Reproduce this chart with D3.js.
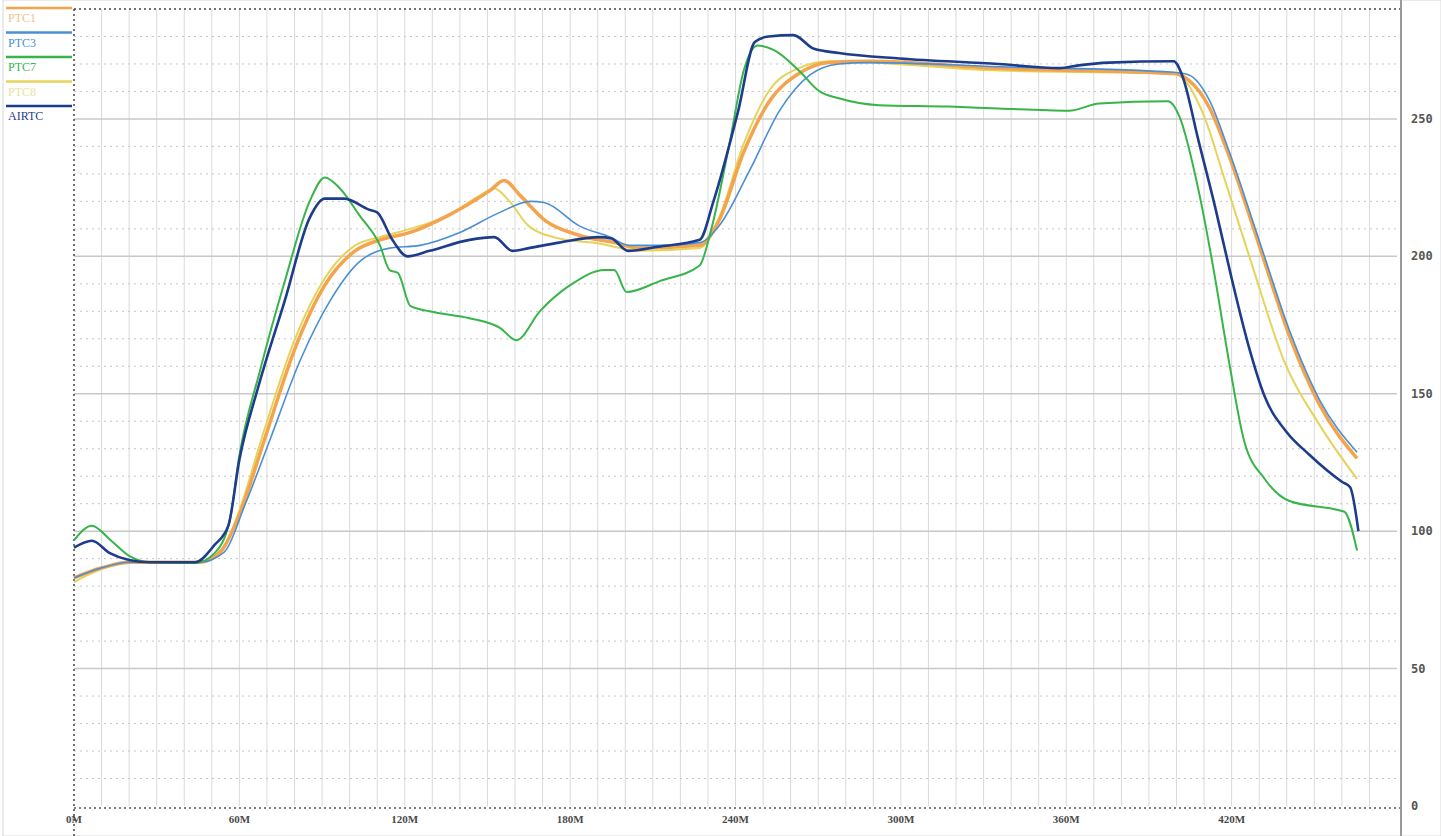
<!DOCTYPE html>
<meta charset="utf-8">
<style>
body { margin: 0; background: #fff; }
text { font-family: "DejaVu Sans Mono", monospace; }
</style>
<body>
<script src="https://cdn.jsdelivr.net/npm/d3@7"></script>
<script>
var width = 1441,
	height = 836;

// minutes vs temperature
var ptc1 = [[0,83],[9.5,86.5],[20,88.7],[45.5,88.7],[53.5,93],[60,106],[69,133],[80,166],[91,189.5],[102,202],[111,206],[122,208.7],[136,215],[151,224],[156,227.6],[162,222],[171,213],[183.5,207.6],[196,205],[205,203],[227,204],[234,213],[243,238],[252,256],[263,266.5],[274,270.5],[288.5,271],[335.5,268.4],[399,266.5],[404.5,264],[412,254],[419,236.7],[430,204],[441,171],[452,145.8],[465.5,126.5]];
var ptc3 = [[0,83],[9.5,86.5],[20,88.7],[45.5,88.7],[54.5,92.4],[62,109.5],[71,133],[82,162],[93,184],[103.5,198],[114.5,203],[125.5,204],[140,208.7],[154.5,216],[165.5,220],[170.5,219.6],[183.5,211],[194.5,207],[201.5,204],[212.5,204],[227,205],[234,211],[245,231],[256,253],[267,266],[277.5,270],[288.5,270.5],[335.5,269],[399,267],[404.5,266],[412,256.7],[419,238.5],[430,205.8],[441,173],[452,147.6],[465.5,128.7]];
var ptc7 = [[0,96.7],[6.5,102],[13,97],[20,91],[27.5,88.7],[44,88.4],[51,92],[56.5,104],[60,127.6],[67.5,158.5],[76.5,191],[85.5,220],[91,228.7],[96.5,224.7],[103.5,215],[111,204],[114.5,195],[117.5,194],[122,182],[129,180],[143.5,177.5],[154.5,174],[160.5,169.5],[169,180],[180,189.5],[192.5,195],[196,195],[200.5,187],[212.5,191],[227,196.7],[231,209],[238,242],[243,267.6],[248,276.7],[254,275],[263,267.6],[270.5,260],[277.5,257.5],[292,255],[317.5,254.5],[335.5,253.8],[361,253],[372,255.6],[397,256.4],[401,251],[408,224],[413.5,195],[419,162],[424.5,133],[432,119],[441,111],[459,107.6],[461,107],[465.5,93]];
var ptc8 = [[0,81.5],[9.5,86],[20,88.4],[45.5,88.4],[53.5,92.4],[60,107.6],[69,136.7],[80,169.5],[91,192],[102,204],[111,207],[122,210],[136,215],[147,222],[152.5,224.7],[158,220],[165,211],[176,206.5],[190.5,204.7],[205,202],[227,203],[234,214],[243,241],[252,260],[263,268.5],[274,271],[288.5,270.5],[335.5,267.6],[399,266.5],[402.5,264.5],[410,251],[417,229.5],[428,195],[439,162],[452,138.5],[465.5,119]];
var airtc = [[0,94],[6.5,96.5],[13,92],[20,89.5],[27.5,88.7],[44,88.7],[51,95],[56,102],[60,126],[67,153],[76.5,184],[85.5,214],[91,221],[98,221],[107,217],[110,216],[115.5,206],[121,200],[129,202],[143.5,206],[152.5,207],[159,202],[165,203],[176,205],[190.5,207],[195,206.5],[201,202],[212,203.5],[227,206],[232,220],[241,253],[247,278],[252,280],[261,280.5],[268.5,275.5],[277.5,274],[299.5,272],[335.5,270],[357.5,268.5],[364.5,269.5],[375.5,270.5],[399,271],[402,266],[408,242],[414,218],[420,192],[426,168],[432,149],[440,136],[448,128],[460,118],[463,116],[466,100]];

var xTicks = [0, 60, 120, 180, 240, 300, 360, 420];
var xTickLabels = ["0M", "60M", "120M", "180M", "240M", "300M", "360M", "420M"];
var yTicks = [0, 50, 100, 150, 200, 250];

var series = [
	{name: "PTC8", data: ptc8, color: "#e6d35a", label: "#ece39a", w: 2},
	{name: "PTC1", data: ptc1, color: "#f3a44c", label: "#f3bf8c", w: 3.5},
	{name: "PTC3", data: ptc3, color: "#4a8fd6", label: "#4a8fd6", w: 1.6},
	{name: "PTC7", data: ptc7, color: "#37b44a", label: "#37b44a", w: 2},
	{name: "AIRTC", data: airtc, color: "#1d3d8c", label: "#1d3d8c", w: 2.6}
];
var legendOrder = ["PTC1", "PTC3", "PTC7", "PTC8", "AIRTC"];

var x = d3.scaleLinear().domain([0, 480]).range([74, 1397]);
var y = d3.scaleLinear().domain([0, 290]).range([806, 9]);

var svg = d3.select("body").append("svg")
			.attr("width", width)
			.attr("height", height);

// outer frame
svg.append("rect")
	.attr("x", 3).attr("y", 0)
	.attr("width", width - 3).attr("height", height)
	.style("fill", "none")
	.style("stroke", "#d8d8d8");

var grid = svg.append("g");

// vertical grid every 10 minutes
grid.selectAll(".vg")
	.data(d3.range(10, 480, 10))
	.enter().append("line")
	.attr("x1", function(d) { return x(d); })
	.attr("x2", function(d) { return x(d); })
	.attr("y1", y(290))
	.attr("y2", y(0))
	.style("stroke", "#dadada")
	.style("stroke-width", 1);

// horizontal grid every 10 units, major at 50
grid.selectAll(".hg")
	.data(d3.range(10, 290, 10))
	.enter().append("line")
	.attr("x1", x(0))
	.attr("x2", x(480))
	.attr("y1", function(d) { return y(d); })
	.attr("y2", function(d) { return y(d); })
	.style("stroke", function(d) { return d % 50 == 0 ? "#c8c8c8" : "#c6c6c6"; })
	.style("stroke-width", function(d) { return d % 50 == 0 ? 1.5 : 1; })
	.style("stroke-dasharray", function(d) { return d % 50 == 0 ? null : "2,4"; });

// borders
svg.append("line")
	.attr("x1", x(0)).attr("x2", x(0))
	.attr("y1", y(290)).attr("y2", height)
	.style("stroke", "#444").style("stroke-width", 1.5)
	.style("stroke-dasharray", "2,3");
svg.append("line")
	.attr("x1", x(0)).attr("x2", x(480) + 4)
	.attr("y1", y(290)).attr("y2", y(290))
	.style("stroke", "#444").style("stroke-width", 1.5)
	.style("stroke-dasharray", "2,3");
svg.append("line")
	.attr("x1", x(0)).attr("x2", x(480) + 4)
	.attr("y1", y(0) + 2).attr("y2", y(0) + 2)
	.style("stroke", "#555").style("stroke-width", 1.5)
	.style("stroke-dasharray", "2,3");
svg.append("line")
	.attr("x1", 1401).attr("x2", 1401)
	.attr("y1", 0).attr("y2", height)
	.style("stroke", "#9a9a9a").style("stroke-width", 2);

// lines
var line = d3.line()
	.x(function(d) { return x(d[0]); })
	.y(function(d) { return y(d[1]); })
	.curve(d3.curveMonotoneX);

svg.append("g").selectAll("path")
	.data(series)
	.enter().append("path")
	.attr("d", function(d) { return line(d.data); })
	.style("fill", "none")
	.style("stroke", function(d) { return d.color; })
	.style("stroke-width", function(d) { return d.w; })
	.style("stroke-linejoin", "round");

// x labels
svg.append("g").selectAll("text")
	.data(xTicks)
	.enter().append("text")
	.attr("x", function(d) { return x(d); })
	.attr("y", 823)
	.attr("text-anchor", "middle")
	.style("font-size", "11px")
	.style("font-weight", "bold")
	.style("font-family", "'Liberation Serif', serif")
	.style("fill", "#4a4a4a")
	.text(function(d, i) { return xTickLabels[i]; });

// y labels on the right
svg.append("g").selectAll("text")
	.data(yTicks)
	.enter().append("text")
	.attr("x", 1411)
	.attr("y", function(d) { return y(d) + 4; })
	.style("font-size", "12px")
	.style("font-weight", "bold")
	.style("fill", "#555")
	.text(function(d) { return d; });

// legend
var legend = svg.append("g").selectAll("g")
	.data(legendOrder.map(function(n) { return series.find(function(s) { return s.name == n; }); }))
	.enter().append("g")
	.attr("transform", function(d, i) { return "translate(0," + (i * 24.5) + ")"; });

legend.append("line")
	.attr("x1", 6).attr("x2", 72)
	.attr("y1", 8).attr("y2", 8)
	.style("stroke", function(d) { return d.color; })
	.style("stroke-width", 2.5);

legend.append("text")
	.attr("x", 8)
	.attr("y", 22)
	.style("font-size", "12px")
	.style("font-family", "'Liberation Serif', serif")
	.style("fill", function(d) { return d.label; })
	.text(function(d) { return d.name; });

</script>
</body>
